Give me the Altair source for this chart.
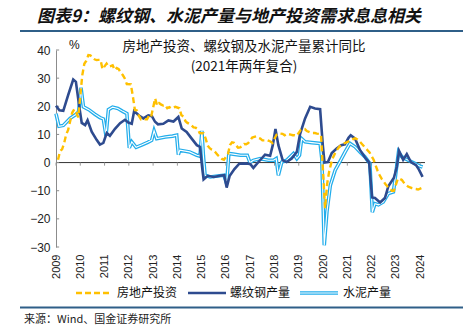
import altair as alt
import pandas as pd

# ---------------- data ----------------
# Real-estate investment, cumulative YoY (%), monthly Feb..Dec per year
inv_years = list(range(2009, 2025))
inv_vals = [
    [1.0, 4.1, 4.7, 6.8, 9.9, 11.6, 14.7, 17.7, 18.9, 17.8, 16.1],
    [31.1, 35.1, 36.2, 38.2, 38.1, 37.2, 36.7, 36.4, 36.5, 36.5, 33.2],
    [35.2, 34.1, 34.3, 34.6, 32.9, 33.6, 33.2, 32.0, 31.1, 29.9, 27.9],
    [27.8, 23.5, 18.7, 18.5, 16.6, 15.4, 15.6, 15.4, 15.4, 16.7, 16.2],
    [22.8, 20.2, 21.1, 20.6, 20.3, 20.5, 19.3, 19.7, 19.2, 19.5, 19.8],
    [19.3, 16.8, 16.4, 14.7, 14.1, 13.7, 13.2, 12.5, 12.4, 11.9, 10.5],
    [10.4, 8.5, 6.0, 5.1, 4.6, 4.3, 3.5, 2.6, 2.0, 1.3, 1.0],
    [3.0, 6.2, 7.2, 7.0, 6.1, 5.3, 5.4, 5.8, 6.6, 6.5, 6.9],
    [8.9, 9.1, 9.3, 8.8, 8.5, 7.9, 7.9, 8.1, 7.8, 7.5, 7.0],
    [9.9, 10.4, 10.3, 10.2, 9.7, 10.2, 10.1, 9.9, 9.7, 9.7, 9.5],
    [11.6, 11.8, 11.9, 11.2, 10.9, 10.6, 10.5, 10.5, 10.3, 10.2, 9.9],
    [-16.3, -7.7, -3.3, -0.3, 1.9, 3.4, 4.6, 5.6, 6.3, 6.8, 7.0],
    [7.6, 7.8, 8.4, 8.6, 8.2, 7.6, 6.8, 6.0, 5.2, 4.4, 3.6],
    [1.0, -1.0, -3.0, -4.5, -5.8, -6.8, -7.8, -8.6, -9.3, -10.0, -10.0],
    [-5.7, -5.8, -6.2, -7.2, -7.9, -8.5, -8.8, -9.1, -9.3, -9.4, -9.6],
    [-9.0, -9.5],
]

# Rebar production, cumulative YoY (%)
rebar_x = [2009.0, 2009.14, 2009.3, 2009.5, 2009.71, 2009.82, 2009.96, 2010.06, 2010.2, 2010.3,
           2010.47, 2010.68, 2010.81, 2010.95, 2011.09, 2011.22, 2011.43, 2011.64, 2011.84, 2011.98,
           2012.12, 2012.22, 2012.45, 2012.6, 2012.8, 2012.95, 2013.08, 2013.2, 2013.42, 2013.63,
           2013.84, 2014.04, 2014.18, 2014.38, 2014.59, 2014.8, 2014.93, 2015.03, 2015.08, 2015.25,
           2015.5, 2015.75, 2015.93, 2016.03, 2016.15, 2016.35, 2016.55, 2016.8, 2017.0, 2017.13,
           2017.34, 2017.61, 2017.82, 2017.93, 2018.04, 2018.16, 2018.34, 2018.5, 2018.71, 2018.92,
           2019.05, 2019.26, 2019.47, 2019.67, 2019.88, 2019.99, 2020.06, 2020.2, 2020.36, 2020.56,
           2020.75, 2020.9, 2021.05, 2021.14, 2021.32, 2021.52, 2021.73, 2021.9, 2022.02, 2022.14,
           2022.35, 2022.55, 2022.69, 2022.92, 2023.04, 2023.13, 2023.3, 2023.45, 2023.62, 2023.83,
           2023.95, 2024.1]
rebar_y = [20.2, 18.6, 18.4, 24.0, 29.5, 28.7, 19.8, 14.1, 13.3, 15.0,
           11.0, 8.0, 6.4, 7.0, 10.5, 9.5, 12.0, 14.0, 15.2, 14.2,
           13.8, 18.3, 16.5, 15.7, 16.8, 16.5, 14.5, 13.6, 13.8, 15.0,
           14.6, 16.2, 12.1, 10.9, 8.5, 6.2, 5.6, -2.5, -6.0, -4.7,
           -5.1, -4.7, -4.5, -8.9, -4.8, -2.3, -0.4, -0.3, -0.5, -1.9,
           0.2, 2.8, 2.4, 6.2, 11.9, 6.2, 0.8, 0.2, 1.4, 3.8,
           10.0, 15.7, 19.8, 19.2, 19.0, 6.2, 0.0, 0.2, 3.4, 5.0,
           6.2, 6.5, 8.8, 9.7, 8.5, 4.5, 1.8, 0.0, -12.4, -12.6,
           -14.2, -12.6, -8.4, -5.4, -1.5, 4.2, 1.0, 3.0, 0.2, -0.9,
           -2.5, -5.1]

# Cement production, cumulative YoY (%)
cement_x = [2009.0, 2009.12, 2009.3, 2009.58, 2009.8, 2009.93, 2010.03, 2010.13, 2010.35, 2010.6,
            2010.81, 2010.95, 2011.06, 2011.16, 2011.33, 2011.55, 2011.75, 2011.92, 2012.02, 2012.12,
            2012.3, 2012.55, 2012.78, 2012.94, 2013.04, 2013.15, 2013.5, 2013.8, 2013.97, 2014.04,
            2014.1, 2014.5, 2014.8, 2014.93, 2015.01, 2015.07, 2015.14, 2015.35, 2015.65, 2015.92,
            2016.03, 2016.12, 2016.3, 2016.6, 2016.88, 2016.99, 2017.13, 2017.41, 2017.75, 2017.96,
            2018.07, 2018.16, 2018.3, 2018.5, 2018.78, 2018.92, 2019.03, 2019.12, 2019.26, 2019.54,
            2019.88, 2019.95, 2020.05, 2020.16, 2020.3, 2020.5, 2020.7, 2020.91, 2021.11, 2021.32,
            2021.52, 2021.73, 2021.93, 2022.03, 2022.14, 2022.28, 2022.48, 2022.69, 2022.9, 2022.97,
            2023.11, 2023.25, 2023.38, 2023.59, 2023.8, 2024.0, 2024.1]
cement_y = [17.4, 12.9, 13.2, 15.7, 17.0, 18.0, 26.6, 19.8, 18.8, 17.2,
            16.0, 15.5, 9.5, 18.8, 19.7, 19.2, 18.2, 17.4, 5.2, 7.4,
            5.4, 6.3, 7.2, 7.9, 11.3, 8.5, 9.1, 9.4, 9.7, 2.8,
            4.4, 3.8, 2.6, 2.3, 11.3, 2.6, -4.5, -5.1, -4.8, -4.5,
            -7.5, 3.2, 3.0, 2.6, 2.6, 0.0, 0.8, 1.4, 0.8, 0.8,
            1.4, -4.5, 0.2, 0.8, 3.2, 1.4, 2.6, 8.5, 7.4, 7.1,
            6.8, 1.4, -29.4, -17.5, -8.1, -2.7, 0.4, 3.8, 6.8, 5.6,
            3.8, 2.0, -0.4, -17.6, -14.6, -15.0, -14.0, -11.0, -10.4, -5.7,
            3.8, 2.0, 1.4, 0.5, -0.4, -1.3, -1.6]

year_ticks = list(range(2009, 2025))
y_ticks = [-30, -20, -10, 0, 10, 20, 30, 40]

series_names = ["房地产投资", "螺纹钢产量", "水泥产量"]
colors = ["#FFC000", "#2E4B8F", "#22ADEB"]

title_text = "图表9：螺纹钢、水泥产量与地产投资需求息息相关"
sub1 = "房地产投资、螺纹钢及水泥产量累计同比"
sub2 = "(2021年两年复合)"
source_text = "来源：Wind、国金证券研究所"

# ---------------- tables ----------------
X_MIN, X_MAX = 2009, 2024.2
inv_rows = []
for yr, vals in zip(inv_years, inv_vals):
    for i, v in enumerate(vals):
        inv_rows.append({"x": yr + (i + 1) / 12.0, "y": v})
inv_df = pd.DataFrame(inv_rows)
rebar_df = pd.DataFrame({"x": rebar_x, "y": rebar_y})
cement_df = pd.DataFrame({"x": cement_x, "y": cement_y})
# small tick marks along the zero line (downwards) and along the y axis (inwards)
xt_df = pd.DataFrame({"x": year_ticks, "y": [0.0] * len(year_ticks),
                      "y2": [-1.1] * len(year_ticks)})
yt_df = pd.DataFrame({"y": y_ticks, "x": [X_MIN] * len(y_ticks),
                      "x2": [X_MIN + 0.13] * len(y_ticks)})
zero_df = pd.DataFrame({"x": [X_MIN], "x2": [X_MAX], "y": [0.0]})

W, H = 369, 197
FONT = "Liberation Sans"
CJK = "Noto Sans CJK SC"

xscale = alt.Scale(domain=[X_MIN, X_MAX], nice=False, zero=False)
yscale = alt.Scale(domain=[-30, 40], nice=False, zero=False)

X = alt.X("x:Q", scale=xscale, axis=alt.Axis(
    values=year_ticks, format="d", labelAngle=270, domain=False, ticks=False,
    grid=False, labelPadding=7, labelFontSize=11, labelFont=FONT, labelColor="#222",
    title=None, labelFlush=False, labelOverlap=False))
Y = alt.Y("y:Q", scale=yscale, axis=alt.Axis(
    values=y_ticks, domain=True, domainColor="#8c8c8c", domainWidth=1, ticks=False,
    grid=False, labelPadding=6, labelFontSize=12, labelFont=FONT, labelColor="#222",
    title=None))

zero_line = alt.Chart(zero_df).mark_rule(color="#333333", strokeWidth=1).encode(
    x=X, x2="x2:Q", y=Y)
x_tick_marks = alt.Chart(xt_df).mark_rule(color="#999999", strokeWidth=1).encode(
    x=X, y=Y, y2="y2:Q")
y_tick_marks = alt.Chart(yt_df).mark_rule(color="#8c8c8c", strokeWidth=1).encode(
    y=Y, x=X, x2="x2:Q")

cement_outer = alt.Chart(cement_df).mark_line(color=colors[2], strokeWidth=3.6).encode(x=X, y=Y)
cement_inner = alt.Chart(cement_df).mark_line(color="#ffffff", strokeWidth=1.1).encode(x=X, y=Y)
rebar_line = alt.Chart(rebar_df).mark_line(color=colors[1], strokeWidth=2.6).encode(x=X, y=Y)
inv_line = alt.Chart(inv_df).mark_line(color=colors[0], strokeWidth=2.4,
                                       strokeDash=[6, 3.5]).encode(x=X, y=Y)

def txt(s, x, y, size, align="left", font=CJK, weight="normal", style="normal", color="#111"):
    return alt.Chart(pd.DataFrame({"t": [s]})).mark_text(
        align=align, baseline="middle", fontSize=size, font=font, fontWeight=weight,
        fontStyle=style, color=color).encode(text="t:N", x=alt.value(x), y=alt.value(y))

def hline(x1, x2, y, color, width, dash=None):
    kw = dict(color=color, strokeWidth=width)
    if dash:
        kw["strokeDash"] = dash
    return alt.Chart(pd.DataFrame({"a": [0]})).mark_rule(**kw).encode(
        x=alt.value(x1), x2=alt.value(x2), y=alt.value(y))

ox, oy = 56, 50  # plot origin in page pixels
annot = [
    txt(title_text, 37 - ox, 17 - oy, 17, weight="bold", style="italic"),
    hline(20 - ox, 463 - ox, 31 - oy, "#2F5F88", 2),
    txt(sub1, 244 - ox, 47 - oy, 13.5, align="center"),
    txt(sub2, 244 - ox, 67 - oy, 13.5, align="center"),
    txt("%", 69 - ox, 45 - oy, 12, font=FONT),
    hline(76 - ox, 110 - ox, 293 - oy, colors[0], 2.4, [6, 3]),
    txt(series_names[0], 117 - ox, 293 - oy, 12),
    hline(188 - ox, 226 - ox, 293 - oy, colors[1], 2.6),
    txt(series_names[1], 230 - ox, 293 - oy, 12),
    hline(300 - ox, 338 - ox, 293 - oy, colors[2], 3.6),
    hline(300 - ox, 338 - ox, 293 - oy, "#ffffff", 1.1),
    txt(series_names[2], 343 - ox, 293 - oy, 12),
    hline(20 - ox, 463 - ox, 307.5 - oy, "#2F5F88", 2),
    txt(source_text, 24 - ox, 320 - oy, 11, color="#222"),
]

chart = alt.layer(
    zero_line, x_tick_marks, y_tick_marks,
    cement_outer, cement_inner, rebar_line, inv_line, *annot
).properties(
    width=W, height=H,
    autosize=alt.AutoSizeParams(type="none"),
    padding={"left": ox, "top": oy, "right": 463 - ox - W, "bottom": 330 - oy - H},
    background="white",
).configure_view(stroke=None)

chart.save("out.html", embed_options={"renderer": "svg", "actions": False})
